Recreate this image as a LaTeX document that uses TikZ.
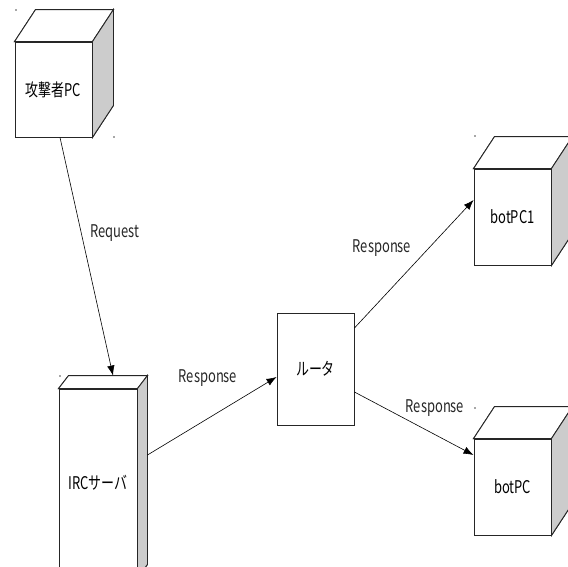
\documentclass[tikz,border=0pt]{standalone}
\usepackage{fontspec}
\setmainfont[FakeStretch=0.74]{Noto Sans CJK JP}
\usetikzlibrary{arrows.meta}
\tikzset{
  face/.style={draw=black!85, line width=0.9pt, fill=white, inner sep=0pt, font=\fontsize{17.5}{20}\selectfont},
  sideface/.style={draw=black!85, line width=0.9pt, fill=black!20},
  topface/.style={draw=black!85, line width=0.9pt, fill=white},
  conn/.style={draw=black, line width=0.6pt, -{Latex[length=10pt,width=7.5pt]}},
  lbl/.style={font=\fontsize{17.5}{20}\selectfont, inner sep=0pt, text=black!85},
  selmark/.style={fill=black!70}
}
\newcommand{\cubefaces}[3]{% node, dx, dy (dy positive = up)
  \fill[topface] (#1.north west) -- ++(#2pt,#3pt) -- ([xshift=#2pt,yshift=#3pt]#1.north east) -- (#1.north east) -- cycle;
  \fill[sideface] (#1.north east) -- ++(#2pt,#3pt) -- ([xshift=#2pt,yshift=#3pt]#1.south east) -- (#1.south east) -- cycle;
  \draw[topface] (#1.north west) -- ++(#2pt,#3pt) -- ([xshift=#2pt,yshift=#3pt]#1.north east) -- (#1.north east) -- cycle;
  \draw[sideface] (#1.north east) -- ++(#2pt,#3pt) -- ([xshift=#2pt,yshift=#3pt]#1.south east) -- (#1.south east) -- cycle;
}
\begin{document}
\begin{tikzpicture}[x=1pt,y=-1pt]
\useasboundingbox (0,0) rectangle (568,566);
% front faces
\node[face, minimum width=77pt, minimum height=95pt] (attacker) at (53.5,89.5) {攻撃者PC};
\node[face, minimum width=77pt, minimum height=96pt] (bot1) at (512.5,217) {botPC1};
\node[face, minimum width=77pt, minimum height=96pt] (bot2) at (512.5,487) {botPC};
\node[face, minimum width=78pt, minimum height=188pt] (irc) at (98,483) {IRCサーバ};
\node[face, minimum width=77pt, minimum height=112pt] (router) at (315.5,369) {ルータ};
\cubefaces{attacker}{21}{32}
\cubefaces{bot1}{21}{32}
\cubefaces{bot2}{21}{32}
\cubefaces{irc}{10}{13}
% selection marks
\fill[selmark] (16,10) circle (0.8pt);
\fill[selmark] (114,137) circle (0.8pt);
\fill[selmark] (60,376) circle (0.8pt);
\fill[selmark] (475,136) circle (0.8pt);
\fill[selmark] (475,408) circle (0.8pt);
% connectors
\draw[conn] ([xshift=6.5pt]attacker.south) -- ([xshift=15pt,yshift=13pt]irc.north);
\node[lbl] (lreq) at (115,233) {Request};
\draw[conn] ([xshift=10pt,yshift=28pt]irc.east) -- ([yshift=-8pt]router.west);
\node[lbl] (lr1) at (208,378) {Response};
\draw[conn] ([yshift=41pt]router.east) -- ([yshift=17pt]bot1.west);
\node[lbl] (lr2) at (382,248) {Response};
\draw[conn] ([yshift=-23pt]router.east) -- ([yshift=32pt]bot2.west);
\node[lbl] (lr3) at (435,408) {Response};
\end{tikzpicture}
\end{document}
